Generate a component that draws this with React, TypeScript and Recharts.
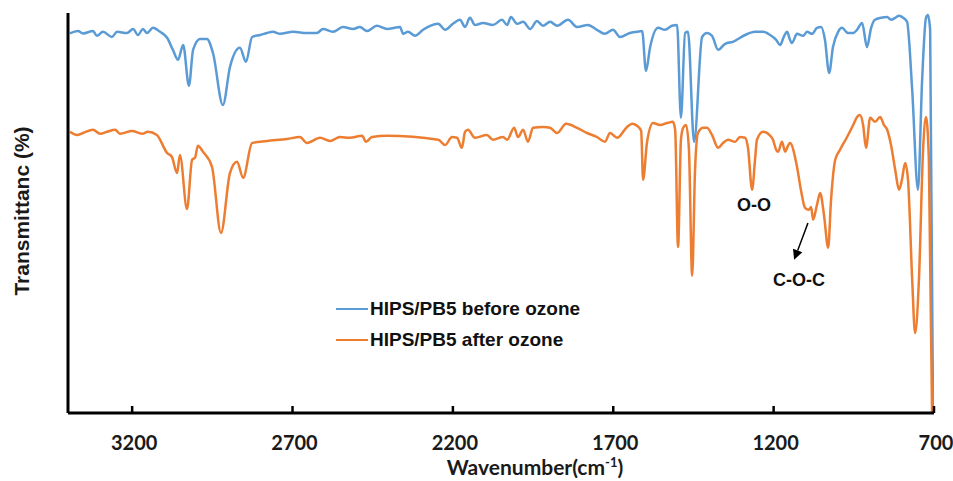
import {
  LineChart,
  Line,
  XAxis,
  YAxis,
  Legend,
  ReferenceDot,
  ReferenceLine,
} from "recharts";

// wavenumber (cm-1) and transmittance (arbitrary offset units)
const blueWn = [
  3394, 3369, 3353, 3322, 3310, 3291, 3263, 3247, 3216, 3197,
  3182, 3166, 3154, 3135, 3113, 3091, 3073, 3057, 3041, 3023,
  3010, 2988, 2967, 2948, 2917, 2895, 2864, 2845, 2826, 2801,
  2780, 2761, 2739, 2698, 2655, 2624, 2605, 2574, 2543, 2511,
  2490, 2468, 2437, 2405, 2365, 2355, 2340, 2318, 2293, 2271,
  2246, 2224, 2200, 2178, 2162, 2147, 2131, 2106, 2075, 2047,
  2031, 2019, 2000, 1981, 1959, 1938, 1919, 1897, 1875, 1841,
  1813, 1779, 1751, 1726, 1701, 1679, 1648, 1626, 1610, 1598,
  1585, 1560, 1539, 1517, 1501, 1489, 1476, 1467, 1448, 1423,
  1408, 1392, 1373, 1351, 1327, 1289, 1258, 1233, 1211, 1192,
  1180, 1167, 1158, 1149, 1143, 1127, 1108, 1096, 1080, 1065,
  1052, 1040, 1027, 1015, 999, 987, 968, 952, 940, 924,
  909, 896, 884, 865, 846, 834, 821, 809, 796, 784,
  768, 750, 737, 725, 719, 712, 703,
];
const blueT = [
  94.9, 95.5, 94.9, 95.5, 94.3, 95.3, 94.0, 95.3, 95.0, 96.0,
  94.5, 96.0, 95.0, 96.3, 95.3, 93.8, 90.8, 88.3, 92.0, 81.8,
  90.8, 93.5, 93.5, 90.0, 77.0, 86.5, 91.3, 87.8, 94.0, 94.5,
  95.0, 95.3, 94.8, 95.3, 95.0, 95.0, 96.0, 95.3, 96.5, 96.0,
  96.5, 95.5, 96.8, 96.0, 96.5, 94.8, 95.3, 94.3, 95.8, 96.8,
  97.3, 95.8, 97.3, 98.3, 96.5, 98.8, 97.0, 97.5, 97.0, 98.3,
  97.0, 99.0, 97.3, 97.8, 96.0, 98.0, 96.8, 97.8, 96.8, 98.3,
  96.5, 97.0, 95.8, 94.8, 95.8, 94.0, 95.0, 95.3, 95.5, 85.5,
  91.5, 96.3, 95.8, 96.8, 97.0, 73.8, 95.0, 95.3, 67.8, 94.0,
  95.0, 94.3, 90.8, 92.3, 92.8, 94.5, 95.3, 95.3, 94.5, 93.3,
  92.0, 94.3, 95.3, 93.3, 92.5, 94.8, 94.3, 95.3, 94.8, 96.3,
  96.5, 93.3, 85.0, 91.5, 95.3, 96.3, 95.0, 95.0, 95.8, 97.5,
  91.5, 96.3, 98.3, 98.8, 99.0, 98.3, 98.8, 99.3, 98.8, 97.8,
  80.8, 55.8, 83.3, 98.8, 99.5, 95.8, 0,
];

const orangeWn = [
  3394, 3372, 3353, 3322, 3300, 3278, 3253, 3238, 3200, 3169,
  3151, 3123, 3091, 3076, 3060, 3051, 3029, 3013, 3004, 2995,
  2979, 2951, 2923, 2895, 2873, 2854, 2826, 2780, 2717, 2677,
  2655, 2614, 2583, 2552, 2521, 2483, 2471, 2452, 2405, 2246,
  2224, 2203, 2187, 2172, 2162, 2153, 2131, 2094, 2075, 2044,
  2031, 2009, 1997, 1981, 1966, 1950, 1919, 1897, 1875, 1847,
  1813, 1782, 1751, 1726, 1710, 1688, 1657, 1641, 1626, 1613,
  1607, 1595, 1576, 1554, 1532, 1514, 1507, 1498, 1489, 1482,
  1473, 1464, 1454, 1445, 1436, 1420, 1408, 1392, 1373, 1358,
  1342, 1320, 1305, 1289, 1280, 1267, 1258, 1252, 1233, 1217,
  1202, 1192, 1186, 1174, 1164, 1158, 1149, 1127, 1115, 1102,
  1090, 1083, 1077, 1065, 1055, 1043, 1030, 1021, 1008, 993,
  971, 952, 940, 931, 921, 912, 899, 884, 868, 856,
  846, 834, 821, 809, 800, 790, 781, 768, 759, 747,
  734, 725, 716, 706,
];
const orangeT = [
  70.3, 69.5, 70.0, 70.8, 69.8, 70.3, 70.8, 69.8, 70.5, 69.8,
  70.3, 69.5, 65.0, 64.0, 60.0, 64.5, 51.0, 63.3, 63.8, 66.8,
  65.3, 61.5, 45.0, 60.0, 62.8, 58.8, 67.5, 68.0, 68.5, 69.0,
  67.5, 68.8, 68.0, 69.0, 68.8, 69.3, 67.8, 69.0, 69.3, 68.3,
  67.0, 69.0, 68.8, 66.3, 70.3, 70.8, 68.8, 69.5, 68.3, 69.0,
  68.3, 71.3, 69.0, 70.8, 67.8, 71.3, 71.5, 71.3, 70.0, 72.3,
  71.3, 70.0, 69.0, 67.8, 70.0, 68.8, 71.5, 72.3, 71.8, 70.5,
  58.3, 67.5, 72.5, 72.0, 72.5, 72.8, 70.8, 41.5, 68.3, 71.3,
  72.0, 65.8, 34.3, 60.8, 70.0, 71.3, 71.3, 69.5, 66.3, 67.5,
  68.3, 67.8, 69.0, 68.8, 66.3, 55.8, 63.3, 68.3, 70.3, 69.8,
  68.3, 65.8, 65.3, 67.8, 65.3, 66.3, 67.5, 61.5, 55.8, 51.3,
  50.8, 51.5, 48.3, 52.0, 55.0, 49.5, 41.3, 53.3, 63.3, 65.8,
  69.0, 72.0, 74.0, 74.5, 72.0, 66.3, 73.8, 72.8, 74.0, 72.0,
  70.8, 67.0, 60.8, 55.8, 58.3, 62.5, 58.3, 33.3, 20.0, 33.3,
  65.8, 74.0, 63.3, 0,
];

const xTicks = [3200, 2700, 2200, 1700, 1200, 700];
const seriesNames = ["HIPS/PB5 before ozone", "HIPS/PB5 after ozone"];

const BLUE = "#5B9BD5";
const ORANGE = "#ED7D31";

const beforeData = blueWn.map((wn, i) => ({ wn, t: blueT[i] }));
const afterData = orangeWn.map((wn, i) => ({ wn, t: orangeT[i] }));

const TickMark = (props: any) => {
  const { x, y, payload } = props;
  return (
    <g>
      <line x1={x} x2={x} y1={y} y2={y - 7} stroke="#000" strokeWidth={2.5} />
      <text
        x={x + 2}
        y={y + 37}
        textAnchor="middle"
        fontFamily="Lato, sans-serif"
        fontWeight={700}
        fontSize={20}
        fill="#1a1a1a"
      >
        {payload.value}
      </text>
    </g>
  );
};

const XTitle = (props: any) => {
  const { viewBox } = props;
  const cx = viewBox.x + viewBox.width / 2 + 34;
  return (
    <text
      x={cx}
      y={viewBox.y + 62}
      textAnchor="middle"
      fontFamily="Lato, sans-serif"
      fontWeight={700}
      fontSize={21}
      fill="#1a1a1a"
    >
      Wavenumber(cm
      <tspan dy={-8} fontSize={13}>
        -1
      </tspan>
      <tspan dy={8}>)</tspan>
    </text>
  );
};

const YTitle = () => (
  <text
    x={21}
    y={211}
    transform="rotate(-90, 21, 211)"
    textAnchor="middle"
    dominantBaseline="central"
    fontFamily="Liberation Sans, Arial, sans-serif"
    fontWeight={700}
    fontSize={21}
    fill="#1a1a1a"
  >
    Transmittanc (%)
  </text>
);

const Arrow = (props: any) => {
  const { x1, y1, x2, y2 } = props;
  const a = Math.atan2(y2 - y1, x2 - x1);
  const len = 10;
  const w = 5;
  const bx = x2 - len * Math.cos(a);
  const by = y2 - len * Math.sin(a);
  const px = -Math.sin(a) * w;
  const py = Math.cos(a) * w;
  return (
    <g>
      <line x1={x1} y1={y1} x2={bx} y2={by} stroke="#000" strokeWidth={1.5} />
      <polygon
        points={`${x2},${y2} ${bx + px},${by + py} ${bx - px},${by - py}`}
        fill="#000"
      />
    </g>
  );
};

const LegendBox = (props: any) => {
  const items = [...(props.payload || [])].sort(
    (a: any, b: any) => seriesNames.indexOf(a.value) - seriesNames.indexOf(b.value)
  );
  return (
    <div>
      {items.map((p: any) => (
        <div
          key={p.value}
          style={{ display: "flex", alignItems: "center", height: 31 }}
        >
          <span
            style={{
              display: "inline-block",
              width: 32,
              height: 2,
              background: p.color,
              marginRight: 2,
            }}
          />
          <span
            style={{
              fontFamily: "Liberation Sans, Arial, sans-serif",
              fontWeight: 700,
              fontSize: 19,
              color: "#111",
            }}
          >
            {p.value}
          </span>
        </div>
      ))}
    </div>
  );
};

const annoLabel = (value: string) => ({
  value,
  position: "center" as const,
  fontFamily: "Liberation Sans, Arial, sans-serif",
  fontWeight: 700,
  fontSize: 18,
  fill: "#111",
});

export default function App() {
  return (
    <div
      style={{
        position: "absolute",
        left: 0,
        top: 0,
        width: 953,
        height: 481,
        background: "#fff",
      }}
    >
      <LineChart
        width={953}
        height={481}
        margin={{ top: 13, right: 19, left: 67, bottom: 38 }}
      >
        <XAxis
          type="number"
          dataKey="wn"
          domain={[700, 3400]}
          reversed
          allowDataOverflow
          ticks={xTicks}
          interval={0}
          height={30}
          tickSize={0}
          tickMargin={0}
          tickLine={false}
          tick={<TickMark />}
          axisLine={{ stroke: "#000", strokeWidth: 3 }}
          label={<XTitle />}
        />
        <YAxis
          type="number"
          dataKey="t"
          domain={[0, 100]}
          allowDataOverflow
          width={1}
          tick={false}
          tickLine={false}
          axisLine={{ stroke: "#000", strokeWidth: 3 }}
          label={<YTitle />}
        />
        <Legend
          layout="vertical"
          verticalAlign="middle"
          align="center"
          wrapperStyle={{ left: 336, top: 293, width: 280 }}
          content={<LegendBox />}
        />
        <Line
          data={beforeData}
          type="monotone"
          dataKey="t"
          name={seriesNames[0]}
          stroke={BLUE}
          strokeWidth={2.5}
          dot={false}
          isAnimationActive={false}
        />
        <Line
          data={afterData}
          type="monotone"
          dataKey="t"
          name={seriesNames[1]}
          stroke={ORANGE}
          strokeWidth={2.5}
          dot={false}
          isAnimationActive={false}
        />
        <ReferenceDot
          x={1261}
          y={52}
          r={0}
          fill="none"
          stroke="none"
          label={annoLabel("O-O")}
        />
        <ReferenceDot
          x={1121}
          y={33.3}
          r={0}
          fill="none"
          stroke="none"
          label={annoLabel("C-O-C")}
        />
        <ReferenceLine
          segment={[
            { x: 1093, y: 47.5 },
            { x: 1136, y: 38.3 },
          ]}
          shape={<Arrow />}
        />
      </LineChart>
    </div>
  );
}
